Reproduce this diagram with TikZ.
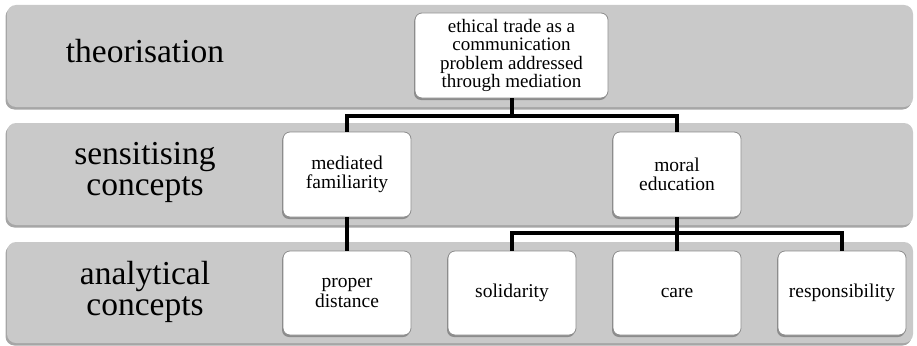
\documentclass[tikz,border=0pt]{standalone}
\usepackage{fontspec}
\setmainfont{Liberation Serif}
\usetikzlibrary{shadows}
\definecolor{bandgray}{RGB}{201,201,201}
\definecolor{boxedge}{RGB}{140,140,140}
\setlength{\lineskiplimit}{-100pt}
\tikzset{
  band/.style={fill=bandgray, draw=none, rounded corners=9pt, inner sep=0pt,
    drop shadow={shadow xshift=-1.5pt, shadow yshift=-2.5pt, opacity=0.35, fill=black}},
  bandlabel/.style={inner sep=0pt, align=center, font=\fontsize{33.5}{31}\selectfont},
  cbox/.style={fill=white, draw=boxedge, line width=0.8pt, rounded corners=7pt, inner sep=0pt,
    align=center, font=\fontsize{19.5}{19.5}\selectfont,
    drop shadow={shadow xshift=-1pt, shadow yshift=-2pt, opacity=0.3, fill=black}},
  conn/.style={line width=4pt, black},
}
\begin{document}
\begin{tikzpicture}[x=1pt, y=-1pt]
\useasboundingbox (0,0) rectangle (917,345);
% bands
\node[band, minimum width=906pt, minimum height=102pt] (b1) at (460,56) {};
\node[band, minimum width=906pt, minimum height=102pt] (b2) at (460,174) {};
\node[band, minimum width=906pt, minimum height=101pt] (b3) at (460,292.5) {};
% band labels
\node[bandlabel, anchor=base] (l1) at (145,63) {theorisation};
\node[bandlabel] (l2) at (145,172.4) {sensitising\\concepts};
\node[bandlabel] (l3) at (145,291.9) {analytical\\concepts};
% boxes
\node[cbox, minimum width=193pt, minimum height=85pt, font=\fontsize{19}{18.5}\selectfont] (top) at (511.5,55.5)
  {ethical trade as a\\communication\\problem addressed\\through mediation};
\node[cbox, minimum width=128pt, minimum height=85pt] (mf) at (347,174.5) {mediated\\familiarity};
\node[cbox, minimum width=128pt, minimum height=85pt] (me) at (677,174.5) {moral\\education};
\node[cbox, minimum width=128pt, minimum height=84pt] (pd) at (347,293) {proper\\distance};
\node[cbox, minimum width=128pt, minimum height=84pt] (so) at (512,293) {solidarity};
\node[cbox, minimum width=128pt, minimum height=84pt] (ca) at (677,293) {care};
\node[cbox, minimum width=128pt, minimum height=84pt] (re) at (842,293) {responsibility};
% junctions
\coordinate (j1) at (511.5,116);
\coordinate (j2) at (677,233);
% connectors
\draw[conn] (top.south) -- (j1);
\draw[conn] (j1) -| (mf.north);
\draw[conn] (j1) -| (me.north);
\draw[conn] (mf.south) -- (pd.north);
\draw[conn] (me.south) -- (j2);
\draw[conn] (j2) -| (so.north);
\draw[conn] (j2) -- (ca.north);
\draw[conn] (j2) -| (re.north);
\end{tikzpicture}
\end{document}
